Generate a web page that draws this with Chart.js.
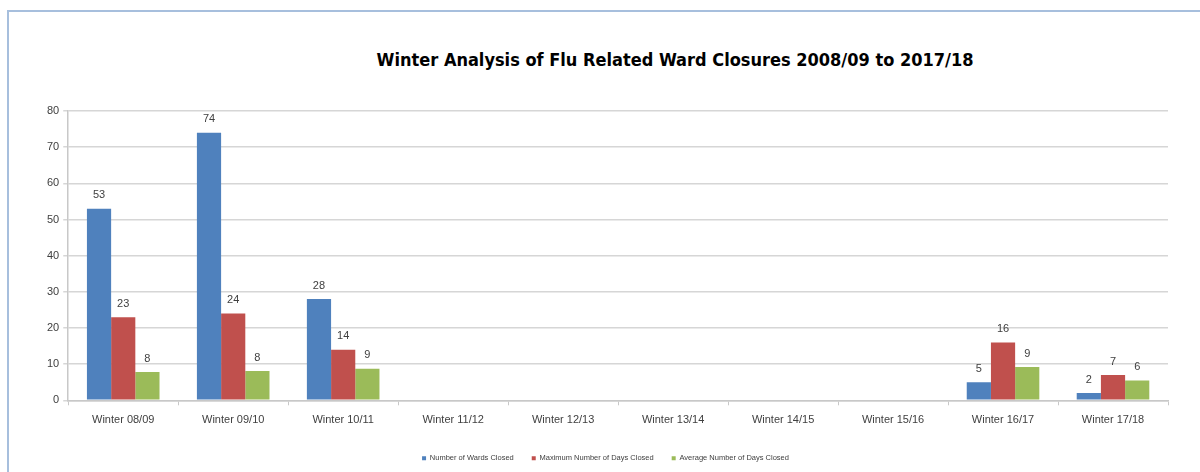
<!DOCTYPE html>
<html>
<head>
<meta charset="utf-8">
<script src="https://cdn.jsdelivr.net/npm/chart.js@4.4.1/dist/chart.umd.min.js"></script>
<style>
  html, body { margin: 0; padding: 0; background: #fff; }
  #frame {
    position: absolute; left: 7px; top: 10px; width: 1193px; height: 462px;
    border-top: 2px solid #a7bfdd; border-left: 2px solid #a7bfdd;
    box-sizing: border-box;
  }
  #title {
    position: absolute; left: 0; width: 1350px; top: 49px; text-align: center;
    font-family: "DejaVu Sans Condensed", "Liberation Sans", sans-serif;
    font-weight: bold; font-size: 18px; color: #000;
  }
  #wrap { position: absolute; left: 0; top: 0; width: 1200px; height: 472px; }
</style>
</head>
<body>
<div id="frame"></div>
<div id="title">Winter Analysis of Flu Related Ward Closures 2008/09 to 2017/18</div>
<div id="wrap"><canvas id="chart"></canvas></div>
<script>
const categories = ['Winter 08/09', 'Winter 09/10', 'Winter 10/11', 'Winter 11/12', 'Winter 12/13',
  'Winter 13/14', 'Winter 14/15', 'Winter 15/16', 'Winter 16/17', 'Winter 17/18'];
const wardsClosed = [53, 74, 28, null, null, null, null, null, 5, 2];
const maxDaysClosed = [23, 24, 14, null, null, null, null, null, 16, 7];
const avgDaysClosed = [7.8, 8.1, 8.7, null, null, null, null, null, 9.2, 5.5];
const yTicks = [0, 10, 20, 30, 40, 50, 60, 70, 80];

const fontFamily = '"Liberation Sans", sans-serif';

// draws the value above each bar
const barLabels = {
  id: 'barLabels',
  afterDatasetsDraw(chart) {
    const ctx = chart.ctx;
    ctx.save();
    ctx.font = '11px ' + fontFamily;
    ctx.fillStyle = '#404040';
    ctx.textAlign = 'center';
    ctx.textBaseline = 'bottom';
    chart.data.datasets.forEach((ds, i) => {
      chart.getDatasetMeta(i).data.forEach((bar, j) => {
        const v = ds.data[j];
        if (v == null) return;
        ctx.fillText(Math.round(v), bar.x, bar.y - 8);
      });
    });
    ctx.restore();
  }
};

new Chart(document.getElementById('chart'), {
  type: 'bar',
  data: {
    labels: categories,
    datasets: [
      { label: 'Number of Wards Closed', data: wardsClosed, backgroundColor: '#4f81bd' },
      { label: 'Maximum Number of Days Closed', data: maxDaysClosed, backgroundColor: '#c0504d' },
      { label: 'Average Number of Days Closed', data: avgDaysClosed, backgroundColor: '#9bbb59' }
    ]
  },
  options: {
    responsive: true,
    maintainAspectRatio: false,
    animation: false,
    datasets: { bar: { categoryPercentage: 0.66, barPercentage: 1.0 } },
    layout: { padding: { left: 43, right: 32, top: 111, bottom: 0 } },
    plugins: {
      title: { display: false },
      tooltip: { enabled: false },
      legend: {
        position: 'bottom',
        labels: {
          boxWidth: 4, boxHeight: 4, padding: 18,
          color: '#404040',
          font: { size: 7.5, family: fontFamily }
        }
      }
    },
    scales: {
      x: {
        afterFit(scale) { scale.height += 2; },
        grid: { display: true, drawOnChartArea: false, offset: true, color: '#c8c8c8', tickLength: 5, lineWidth: 1 },
        border: { color: '#c8c8c8', width: 1.5 },
        ticks: { color: '#404040', padding: 8, font: { size: 11, family: fontFamily } }
      },
      y: {
        min: 0, max: 80,
        afterBuildTicks(axis) { axis.ticks = yTicks.map(v => ({ value: v })); },
        grid: { color: '#d6d6d6', lineWidth: 1.5, tickLength: 5 },
        border: { color: '#c8c8c8', width: 1.5 },
        ticks: { color: '#404040', padding: 4, font: { size: 11, family: fontFamily } }
      }
    }
  },
  plugins: [barLabels]
});
</script>
</body>
</html>
